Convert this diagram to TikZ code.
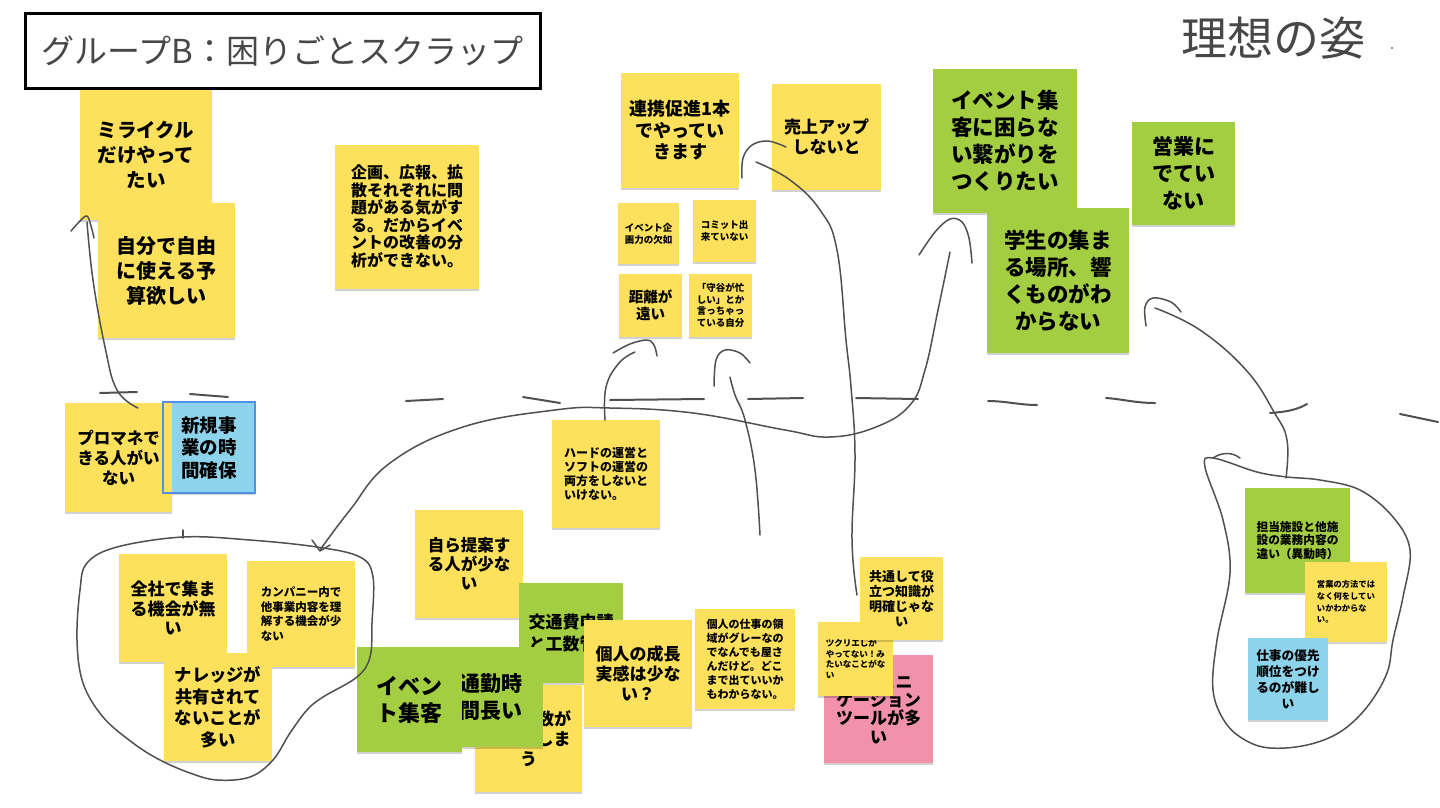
\documentclass[tikz,border=0pt]{standalone}
\usepackage{fontspec}
\newfontfamily\jp{Noto Sans CJK JP}
\usetikzlibrary{shadows}
\definecolor{stY}{RGB}{253,225,92}
\definecolor{stG}{RGB}{163,206,66}
\definecolor{stB}{RGB}{142,211,236}
\definecolor{stP}{RGB}{241,146,170}
\definecolor{penc}{RGB}{80,80,80}
\definecolor{bordc}{RGB}{80,145,230}
\newcommand\notefont[2]{\jp\bfseries\fontsize{#1}{#2}\selectfont}
\tikzset{
  note/.style={rectangle, inner sep=0pt, align=center, text=black,
    drop shadow={shadow xshift=0pt, shadow yshift=-2pt, opacity=0.18, fill=black}},
  yel/.style={note, fill=stY},
  grn/.style={note, fill=stG},
  blu/.style={note, fill=stB},
  pnk/.style={note, fill=stP},
  sz/.style 2 args={minimum width=#1pt, minimum height=#2pt},
  pen/.style={draw=penc, line width=1.5pt, line cap=round, line join=round},
  dsh/.style={draw=penc, line width=2pt, line cap=round}
}
\begin{document}
\begin{tikzpicture}[x=1pt,y=-1pt]
\useasboundingbox (0,0) rectangle (1440,807);
\fill[white] (0,0) rectangle (1440,807);

% title and handwriting
\node[draw=black, line width=3pt, fill=white, sz={515}{75}, inner sep=0pt,
  font=\jp\fontsize{33}{36}\selectfont, text=black!72] (title) at (282.5,50.5) {グループB：困りごとスクラップ};
\node[inner sep=0pt, font=\jp\fontsize{46}{50}\selectfont, text=black!72] (ideal) at (1273,38) {理想の姿};
\fill[black!60] (1392,48) circle (1.2pt);

% top-left
\node[yel, sz={132}{130}, font=\notefont{19.5}{25}] (mira) at (146,155) {ミライクル\\だけやって\\たい};
\node[yel, sz={137}{135}, font=\notefont{20}{25}] (jibun) at (166.5,270.5) {自分で自由\\に使える予\\算欲しい};
\node[yel, sz={144}{144}, font=\notefont{16}{17.5}] (kikaku) at (407,216.5) {企画、広報、拡\\散それぞれに問\\題がある気がす\\る。だからイベ\\ントの改善の分\\析ができない。};

% top middle
\node[yel, sz={118}{115}, font=\notefont{18}{21.5}] (renkei) at (680,130.5) {連携促進1本\\でやってい\\きます};
\node[yel, sz={109}{106}, font=\notefont{17}{20}] (uriage) at (826.5,137) {売上アップ\\しないと};
\node[yel, sz={61}{61}, font=\notefont{9.5}{12}] (evkikaku) at (648.5,233.5) {イベント企\\画力の欠如};
\node[yel, sz={63}{62}, font=\notefont{9.5}{12}] (commit) at (724.5,231) {コミット出\\来ていない};
\node[yel, sz={63}{63}, font=\notefont{14.5}{17}] (kyori) at (650.5,305.5) {距離が\\遠い};
\node[yel, sz={63}{63}, font=\notefont{9.5}{11.5}] (moriya) at (720.5,305.5) {「守谷が忙\\しい」とか\\言っちゃっ\\ている自分};

% top right (green)
\node[grn, sz={144}{144}, font=\notefont{21.5}{27}] (evideal) at (1005,141) {イベント集\\客に困らな\\い繋がりを\\つくりたい};
\node[grn, sz={142}{145}, font=\notefont{21.5}{27}] (gakusei) at (1058,280.5) {学生の集ま\\る場所、響\\くものがわ\\からない};
\node[grn, sz={103}{103}, font=\notefont{21}{27}] (eigyo) at (1183.5,173.5) {営業に\\でてい\\ない};

% left middle
\node[blu, sz={92}{91}, font=\notefont{18.5}{22.5}] (shinki) at (209,447.5) {新規事\\業の時\\間確保};
\node[yel, sz={107}{109}, font=\notefont{16.5}{20}] (promane) at (118.5,457.5) {プロマネで\\きる人がい\\ない};
\draw[bordc, line width=1.5pt] (shinki.north west) rectangle (shinki.south east);

% bottom-left group
\node[yel, sz={108}{108}, font=\notefont{17}{19.5}] (zensha) at (173,608) {全社で集ま\\る機会が無\\い};
\node[yel, sz={108}{106}, font=\notefont{11.5}{14.5}, align=left] (company) at (301,614) {カンパニー内で\\他事業内容を理\\解する機会が少\\ない};
\node[yel, sz={108}{108}, font=\notefont{17.3}{21.5}] (knowledge) at (218,707) {ナレッジが\\共有されて\\ないことが\\多い};

% bottom middle
\node[yel, sz={108}{108}, font=\notefont{12}{14}, align=left] (hard) at (606,474) {ハードの運営と\\ソフトの運営の\\両方をしないと\\いけない。};
\node[yel, sz={108}{108}, font=\notefont{16.5}{19}] (mizukara) at (469,564) {自ら提案す\\る人が少な\\い};
\node[grn, sz={104}{100}, font=\notefont{17}{21.5}] (kotsuhi) at (571,633) {交通費申請\\と工数管理};
\node[yel, sz={107}{107}, font=\notefont{17}{20}] (jimu) at (528.5,738.5) {\phantom{事務工}数が\\\phantom{増えて}しま\\う};
\node[grn, sz={104}{100}, font=\notefont{21}{27}] (tsukin) at (491,697) {通勤時\\間長い};
\node[grn, sz={105}{105}, font=\notefont{22}{27}] (evshukyaku) at (409.5,699.5) {イベン\\ト集客};
\node[yel, sz={108}{107}, font=\notefont{17}{20}] (seicho) at (638,673.5) {個人の成長\\実感は少な\\い？};
\node[yel, sz={100}{100}, font=\notefont{11}{14}, align=left] (shigoto) at (745,659) {個人の仕事の領\\域がグレーなの\\でなんでも屋さ\\んだけど。どこ\\まで出ていいか\\もわからない。};

% bottom center-right
\node[pnk, sz={109}{108}, font=\notefont{17}{18.3}] (comm) at (878.5,709) {コミュニ\\ケーション\\ツールが多\\い};
\node[yel, sz={75}{74}, font=\notefont{8.5}{10.8}, align=left] (tsukurie) at (855.5,659) {ツクリエしか\\やってない！み\\たいなことがな\\い};
\node[yel, sz={83}{83}, font=\notefont{13}{15}] (kyotsu) at (901.5,598.5) {共通して役\\立つ知識が\\明確じゃな\\い};

% bottom right
\node[grn, sz={105}{105}, font=\notefont{11.7}{13.5}, align=left] (tanto) at (1297.5,540.5) {担当施設と他施\\設の業務内容の\\違い（異動時）};
\node[yel, sz={82}{80}, font=\notefont{8.3}{11.7}, align=left] (hoho) at (1346,602) {営業の方法では\\なく何をしてい\\いかわからな\\い。};
\node[blu, sz={80}{82}, font=\notefont{12.7}{16}] (yusen) at (1288,679) {仕事の優先\\順位をつけ\\るのが難し\\い};

% hand-drawn dashed divider
\draw[dsh] (100,393) -- (137,392);
\draw[dsh] (190,394) -- (228,397);
\draw[dsh] (406,401) -- (443,399);
\draw[dsh] (523,397) -- (560,403);
\draw[dsh] (610,400) -- (704,399);
\draw[dsh] (748,399) -- (803,398);
\draw[dsh] (856,398) -- (918,399);
\draw[dsh] (988,401) .. controls (1005,401) and (1020,405) .. (1037,405);
\draw[dsh] (1106,398) .. controls (1122,399) and (1135,403) .. (1155,403);
\draw[dsh] (1270,413) .. controls (1285,412) and (1297,410) .. (1307,404);
\draw[dsh] (1400,414) -- (1438,422);

% lassos
\draw[pen] plot[smooth cycle, tension=0.6] coordinates {(87,563) (117,547) (183,537) (250,540) (317,547) (360,557) (373,577) (372,623) (370,657) (357,677) (323,697) (307,710) (290,733) (273,760) (250,777) (217,780) (190,773) (160,760) (133,743) (103,717) (83,683) (77,640) (80,590)};
\draw[pen] (183,530) -- (183,538);
\draw[pen] plot[smooth cycle, tension=0.6] coordinates {(1213,458) (1257,472) (1287,477) (1320,480) (1360,490) (1393,517) (1410,550) (1403,597) (1393,640) (1387,673) (1367,707) (1340,732) (1307,745) (1270,748) (1245,740) (1225,722) (1213,690) (1217,640) (1230,573) (1223,520) (1205,467)};
\draw[pen] (1213,458) .. controls (1222,452) and (1232,452) .. (1240,458);

% arrows (freehand)
\coordinate (tipA) at (87,216);
\draw[pen] plot[smooth, tension=0.7] coordinates {(138,408) (117,390) (105,347) (93,280) (87,222)};
\draw[pen] plot[smooth, tension=0.6] coordinates {(71,231) (80,221) (tipA) (91,226) (94,238)};

\coordinate (tipB) at (950,219);
\draw[pen] plot[smooth, tension=0.7] coordinates {(320,550) (350,510) (390,463) (463,427) (555,410) (610,408) (693,413) (785,430) (830,437) (876,427) (910,405) (925,370) (938,310) (950,252)};
\draw[pen] plot[smooth, tension=0.6] coordinates {(919,255) (935,232) (tipB) (962,222) (969,238) (972,263)};
\draw[pen] (312,540) -- (320,551) -- (330,545);

\coordinate (tipC) at (647,340);
\draw[pen] plot[smooth, tension=0.7] coordinates {(605,420) (606,387) (619,363) (635,352)};
\draw[pen] plot[smooth, tension=0.6] coordinates {(613,353) (630,344) (tipC) (654,345) (657,356)};

\coordinate (tipD) at (725,350);
\draw[pen] plot[smooth, tension=0.7] coordinates {(760,535) (755,470) (745,420) (735,395) (730,377)};
\draw[pen] plot[smooth, tension=0.6] coordinates {(714,386) (716,360) (tipD) (740,353) (750,363)};

\coordinate (tipE) at (768,141);
\draw[pen] plot[smooth, tension=0.7] coordinates {(857,595) (852,540) (855,455) (851,387) (846,340) (837,250) (820,210) (790,180) (756,162)};
\draw[pen] plot[smooth, tension=0.6] coordinates {(742,178) (743,158) (752,145) (tipE) (786,147)};

\coordinate (tipF) at (1153,298);
\draw[pen] plot[smooth, tension=0.7] coordinates {(1286,478) (1287,440) (1274,412) (1246,370) (1200,330) (1155,308)};
\draw[pen] plot[smooth, tension=0.6] coordinates {(1146,326) (1145,307) (tipF) (1171,302) (1181,312)};
\end{tikzpicture}
\end{document}
